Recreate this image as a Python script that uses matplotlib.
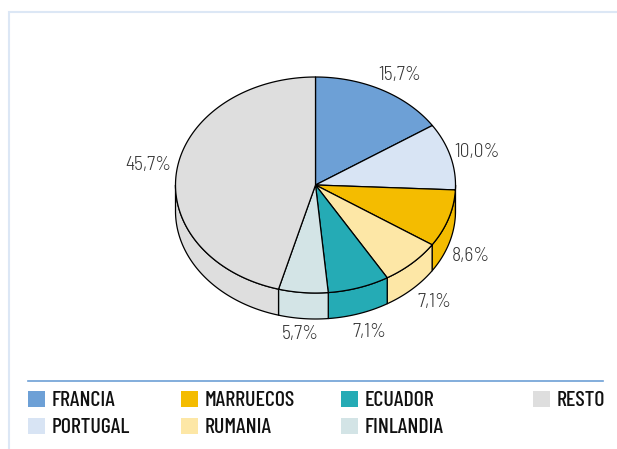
import numpy as np
import matplotlib
matplotlib.use('Agg')
import matplotlib.pyplot as plt
from matplotlib.patches import Polygon, Rectangle

matplotlib.rcParams['font.family'] = ['Barlow Condensed', 'Liberation Sans', 'DejaVu Sans']

# datos
paises = ['FRANCIA', 'PORTUGAL', 'MARRUECOS', 'RUMANIA', 'ECUADOR', 'FINLANDIA', 'RESTO']
valores = [15.7, 10.0, 8.6, 7.1, 7.1, 5.7, 45.7]
colores = ['#6DA0D6', '#D8E4F4', '#F4BC00', '#FDE7A6', '#25ABB5', '#D3E4E6', '#DEDEDE']
etiquetas = ['15,7%', '10,0%', '8,6%', '7,1%', '7,1%', '5,7%', '45,7%']

# geometria de la tarta, en pixeles
cx, cy = 315.5, 185
rx, ry = 140, 108
fondo = 26
pos_etiquetas = [(400, 75), (477, 152), (471, 256), (434, 302), (369, 332), (300, 334), (148, 165)]
pos_leyenda = [(28, 391), (28, 418), (181, 391), (181, 418), (341, 391), (341, 418), (533, 391)]


def arco(a0, a1):
    # angulos en grados, desde arriba y en sentido horario
    t = np.radians(np.linspace(a0, a1, 120))
    return np.column_stack([cx + rx * np.sin(t), cy - ry * np.cos(t)])


fig = plt.figure(figsize=(6.17, 4.49), dpi=100)
ax = fig.add_axes([0, 0, 1, 1])
ax.set_xlim(0, 617)
ax.set_ylim(449, 0)
ax.axis('off')

# marco
ax.plot([8.5, 8.5, 617], [449, 11.5, 11.5], color='#DCE7F5', lw=1.5, solid_joinstyle='miter')

bordes = np.concatenate([[0], np.cumsum(valores)]) / sum(valores) * 360

# lado visible, solo la mitad delantera
for i, color in enumerate(colores):
    a0 = max(bordes[i], 90)
    a1 = min(bordes[i + 1], 270)
    if a1 <= a0:
        continue
    top = arco(a0, a1)
    bottom = top[::-1] + [0, fondo]
    ax.add_patch(Polygon(np.vstack([top, bottom]), closed=True, facecolor=color,
                         edgecolor='black', lw=0.9, joinstyle='round', zorder=2))

# cara superior
for i, color in enumerate(colores):
    pts = np.vstack([[cx, cy], arco(bordes[i], bordes[i + 1])])
    ax.add_patch(Polygon(pts, closed=True, facecolor=color, edgecolor='black',
                         lw=0.9, joinstyle='round', zorder=3))

for (x, y), txt in zip(pos_etiquetas, etiquetas):
    ax.text(x, y, txt, fontsize=14, color='#333333', ha='center', va='center',
            family=['Barlow Semi Condensed', 'Liberation Sans', 'DejaVu Sans'], weight=300)

# leyenda
ax.plot([28, 603], [380.5, 380.5], color='#6DA0D6', lw=1.2)
for (x, y), nombre, color in zip(pos_leyenda, paises, colores):
    ax.add_patch(Rectangle((x, y), 16.5, 16, facecolor=color, edgecolor='none'))
    ax.text(x + 24, y + 9.5, nombre, fontsize=15.8, color='#111111', ha='left', va='center', weight=500)

fig.savefig('out.png', dpi=100)
